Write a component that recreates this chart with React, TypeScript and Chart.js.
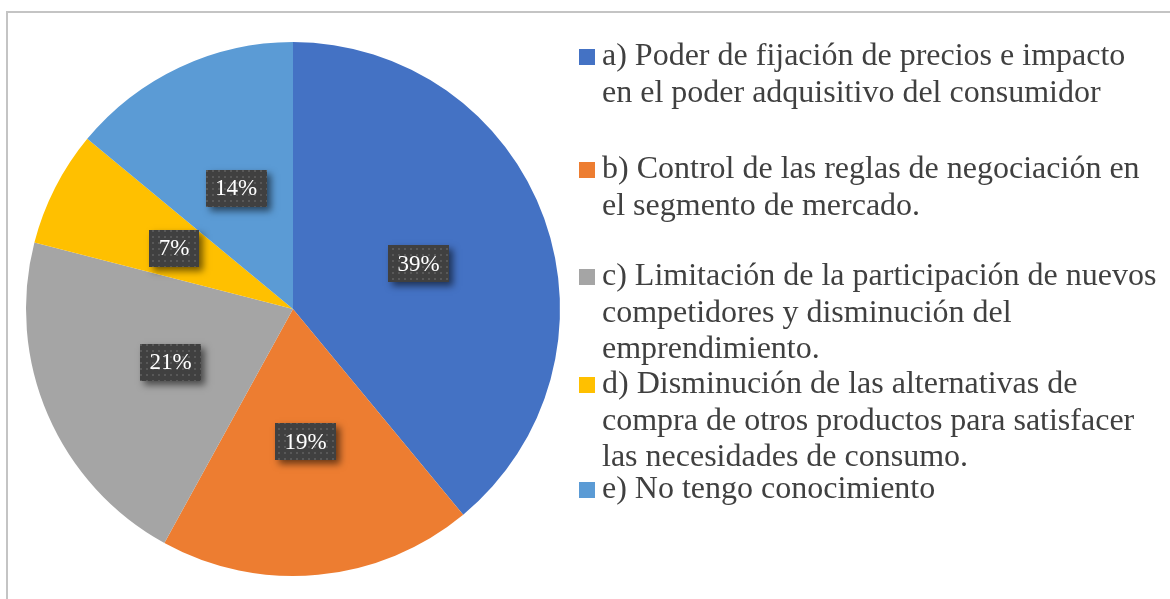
import React, { useEffect, useRef } from "react";
import { Chart, registerables } from "chart.js";

Chart.register(...registerables);

// ---- data ----
const categories: string[][] = [
  ["a) Poder de fijación de precios e impacto", "en el poder adquisitivo del consumidor"],
  ["b) Control de las reglas de negociación en", "el segmento de mercado."],
  ["c) Limitación de la participación de nuevos", "competidores y disminución del", "emprendimiento."],
  ["d) Disminución de las alternativas de", "compra de otros productos para satisfacer", "las necesidades de consumo."],
  ["e) No tengo conocimiento"],
];
const values = [39, 19, 21, 7, 14];
const valueLabels = ["39%", "19%", "21%", "7%", "14%"];
const colors = ["#4472C4", "#ED7D31", "#A5A5A5", "#FFC000", "#5B9BD5"];

const FONT = "'Times New Roman', 'Liberation Serif', serif";

const framePlugin = {
  id: "frame",
  beforeDraw(chart: any) {
    const ctx = chart.ctx;
    ctx.save();
    ctx.fillStyle = "#ffffff";
    ctx.fillRect(0, 0, chart.width, chart.height);
    ctx.strokeStyle = "#c4c4c4";
    ctx.lineWidth = 2;
    ctx.beginPath();
    ctx.moveTo(7, chart.height + 2);
    ctx.lineTo(7, 12);
    ctx.lineTo(chart.width + 2, 12);
    ctx.stroke();
    ctx.restore();
  },
};

function makePattern(ctx: CanvasRenderingContext2D) {
  const c = document.createElement("canvas");
  c.width = 6;
  c.height = 6;
  const p = c.getContext("2d")!;
  p.fillStyle = "#404040";
  p.fillRect(0, 0, 6, 6);
  p.fillStyle = "#585858";
  p.fillRect(2, 2, 2, 2);
  return ctx.createPattern(c, "repeat");
}

const labelPlugin = {
  id: "boxLabels",
  afterDatasetsDraw(chart: any) {
    const ctx: CanvasRenderingContext2D = chart.ctx;
    const meta = chart.getDatasetMeta(0);
    const pattern = makePattern(ctx);
    meta.data.forEach((arc: any, i: number) => {
      const { x, y } = arc.tooltipPosition();
      const text = valueLabels[i];
      ctx.save();
      ctx.font = `23px ${FONT}`;
      const tw = ctx.measureText(text).width;
      const w = Math.round(tw + 19);
      const h = 37;
      const bx = Math.round(x - w / 2);
      const by = Math.round(y - h / 2);
      ctx.shadowColor = "rgba(0,0,0,0.55)";
      ctx.shadowBlur = 7;
      ctx.shadowOffsetX = 4;
      ctx.shadowOffsetY = 4;
      ctx.fillStyle = "#404040";
      ctx.fillRect(bx, by, w, h);
      ctx.shadowColor = "transparent";
      ctx.shadowBlur = 0;
      ctx.shadowOffsetX = 0;
      ctx.shadowOffsetY = 0;
      if (pattern) {
        ctx.fillStyle = pattern;
        ctx.fillRect(bx, by, w, h);
      }
      ctx.fillStyle = "#ffffff";
      ctx.textAlign = "center";
      ctx.textBaseline = "middle";
      ctx.fillText(text, x, y + 1);
      ctx.restore();
    });
  },
};

const legendPlugin = {
  id: "sideLegend",
  afterDraw(chart: any) {
    const ctx: CanvasRenderingContext2D = chart.ctx;
    const baselines = [65, 178, 285, 393, 498];
    const lineStep = 36.5;
    ctx.save();
    ctx.font = `32px ${FONT}`;
    ctx.textBaseline = "alphabetic";
    ctx.textAlign = "left";
    categories.forEach((lines, i) => {
      const base = baselines[i];
      ctx.fillStyle = colors[i];
      ctx.fillRect(579, base - 16, 16, 16);
      ctx.fillStyle = "#404040";
      lines.forEach((ln, j) => {
        ctx.fillText(ln, 602, base + j * lineStep);
      });
    });
    ctx.restore();
  },
};

export default function App() {
  const ref = useRef<HTMLCanvasElement>(null);
  useEffect(() => {
    if (!ref.current) return;
    const chart = new Chart(ref.current, {
      type: "pie",
      data: {
        labels: categories.map((l) => l.join(" ")),
        datasets: [
          {
            data: values,
            backgroundColor: colors,
            borderWidth: 0,
          },
        ],
      },
      options: {
        responsive: false,
        animation: false,
        layout: { padding: { left: 26, right: 610, top: 42, bottom: 23 } },
        plugins: {
          legend: { display: false },
          tooltip: { enabled: false },
        },
      },
      plugins: [framePlugin, labelPlugin, legendPlugin],
    });
    return () => chart.destroy();
  }, []);
  return (
    <div style={{ position: "absolute", left: 0, top: 0, width: 1170, height: 599 }}>
      <canvas ref={ref} width={1170} height={599} style={{ display: "block" }} />
    </div>
  );
}
